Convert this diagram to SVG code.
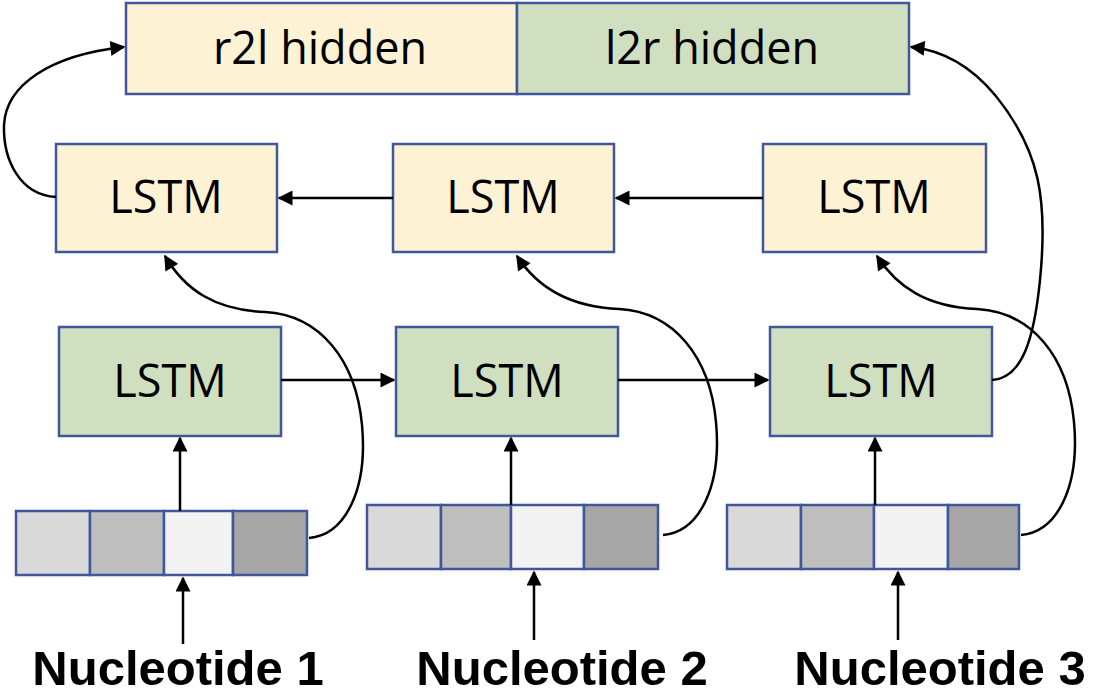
<svg xmlns="http://www.w3.org/2000/svg" width="1095" height="696" viewBox="0 0 1095 696">
<style>
.box{stroke:#41579b;stroke-width:2.5}
.y{fill:#fdf2d3}.g{fill:#cfdfbf}
.lbl{font-family:"Open Sans",sans-serif;font-size:45px;fill:#000;text-anchor:middle}
.nuc{font-family:"Liberation Sans",Arial,sans-serif;font-weight:bold;font-size:49px;fill:#000;text-anchor:middle}
.c1{fill:#d9d9d9}.c2{fill:#bfbfbf}.c3{fill:#f2f2f2}.c4{fill:#a6a6a6}
.ln{fill:none;stroke:#000;stroke-width:2.5}
</style>
<defs>
<marker id="ah" viewBox="0 0 10 10" refX="9" refY="5" markerWidth="6.5" markerHeight="6" markerUnits="strokeWidth" orient="auto">
<path d="M0,0 L10,5 L0,10 z" fill="#000"/>
</marker>
</defs>
<g id="hidden">
<rect class="box y" x="126" y="3" width="391" height="91"/>
<rect class="box g" x="517" y="3" width="392" height="91"/>
<text class="lbl" x="320" y="64">r2l hidden</text>
<text class="lbl" x="712" y="64">l2r hidden</text>
</g>
<g id="r2l1"><rect class="box y" x="56" y="144" width="221" height="108"/><text class="lbl" x="166" y="213">LSTM</text></g>
<g id="r2l2"><rect class="box y" x="393" y="144" width="221" height="108"/><text class="lbl" x="503" y="213">LSTM</text></g>
<g id="r2l3"><rect class="box y" x="763" y="144" width="223" height="108"/><text class="lbl" x="874" y="213">LSTM</text></g>
<g id="l2r1"><rect class="box g" x="59" y="327" width="222" height="109"/><text class="lbl" x="170" y="397">LSTM</text></g>
<g id="l2r2"><rect class="box g" x="396" y="327" width="222" height="109"/><text class="lbl" x="507" y="397">LSTM</text></g>
<g id="l2r3"><rect class="box g" x="770" y="327" width="222" height="109"/><text class="lbl" x="881" y="397">LSTM</text></g>
<g id="emb1">
<rect class="box c1" x="16" y="511" width="74" height="64"/>
<rect class="box c2" x="90" y="511" width="74" height="64"/>
<rect class="box c3" x="164" y="511" width="69" height="64"/>
<rect class="box c4" x="233" y="511" width="74" height="64"/>
</g>
<g id="emb2">
<rect class="box c1" x="367" y="505" width="74" height="64"/>
<rect class="box c2" x="441" y="505" width="70" height="64"/>
<rect class="box c3" x="511" y="505" width="73" height="64"/>
<rect class="box c4" x="584" y="505" width="74" height="64"/>
</g>
<g id="emb3">
<rect class="box c1" x="727" y="505" width="74" height="64"/>
<rect class="box c2" x="801" y="505" width="73" height="64"/>
<rect class="box c3" x="874" y="505" width="74" height="64"/>
<rect class="box c4" x="948" y="505" width="71" height="64"/>
</g>
<g id="n1"><text class="nuc" x="178" y="685">Nucleotide 1</text></g>
<g id="n2"><text class="nuc" x="562" y="685">Nucleotide 2</text></g>
<g id="n3"><text class="nuc" x="940" y="685">Nucleotide 3</text></g>
<g id="connectors">
<path class="ln" marker-end="url(#ah)" d="M183 644 L183 578"/>
<path class="ln" marker-end="url(#ah)" d="M534 640 L534 572"/>
<path class="ln" marker-end="url(#ah)" d="M898 640 L898 572"/>
<path class="ln" marker-end="url(#ah)" d="M180 511 L180 438"/>
<path class="ln" marker-end="url(#ah)" d="M511 505 L511 438"/>
<path class="ln" marker-end="url(#ah)" d="M875 505 L875 438"/>
<path class="ln" marker-end="url(#ah)" d="M281 380 L394 380"/>
<path class="ln" marker-end="url(#ah)" d="M618 380 L768 380"/>
<path class="ln" marker-end="url(#ah)" d="M393 198 L279 198"/>
<path class="ln" marker-end="url(#ah)" d="M763 198 L616 198"/>
<path class="ln" marker-end="url(#ah)" d="M309 538 C345 535 368 490 362 425 C356 360 320 315 265 312 C215 310 185 290 165 256"/>
<path class="ln" marker-end="url(#ah)" d="M663 535 C699 532 722 487 716 422 C710 357 674 312 619 309 C569 307 537 287 517 256"/>
<path class="ln" marker-end="url(#ah)" d="M1021 535 C1057 532 1080 487 1074 422 C1068 357 1032 312 977 309 C927 307 897 287 877 256"/>
<path class="ln" marker-end="url(#ah)" d="M56 197 C20 195 3 160 4 125 C6 85 50 55 124 47"/>
<path class="ln" marker-end="url(#ah)" d="M992 380 C1022 378 1034 340 1040 280 C1048 200 1040 150 995 95 C970 65 940 50 911 47"/>
</g>
</svg>
